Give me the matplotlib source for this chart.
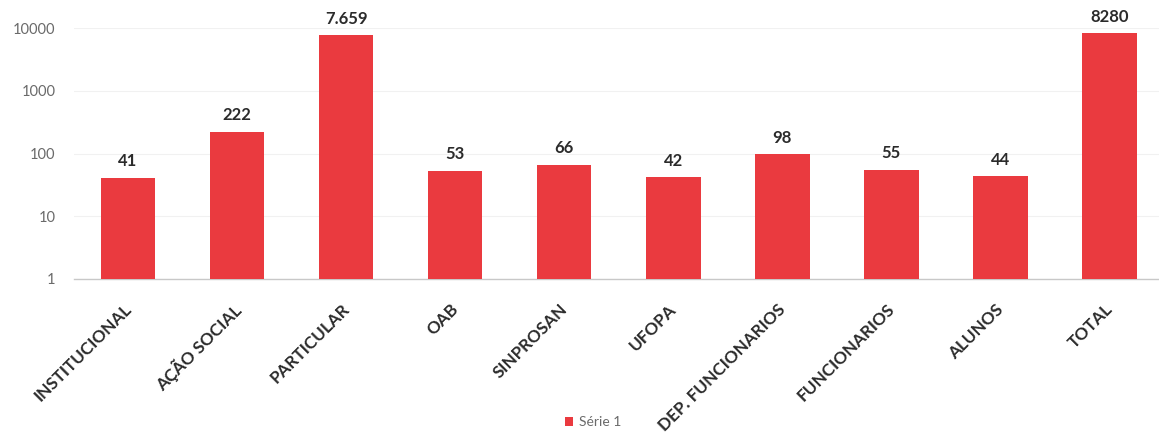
import matplotlib
matplotlib.use("Agg")
import matplotlib.pyplot as plt
import matplotlib.transforms as mtransforms
from matplotlib.patches import Patch

categories = ["INSTITUCIONAL", "AÇÃO SOCIAL", "PARTICULAR", "OAB", "SINPROSAN",
              "UFOPA", "DEP. FUNCIONARIOS", "FUNCIONARIOS", "ALUNOS", "TOTAL"]
values = [41, 222, 7659, 53, 66, 42, 98, 55, 44, 8280]
value_labels = ["41", "222", "7.659", "53", "66", "42", "98", "55", "44", "8280"]
yticks = [1, 10, 100, 1000, 10000]
series_name = "Série 1"

plt.rcParams['font.family'] = ['Lato', 'DejaVu Sans']

W, H = 1159, 438
fig = plt.figure(figsize=(W / 100, H / 100), dpi=100)
fig.patch.set_facecolor('white')
left = 73.5 / W
right = 1164 / W
bottom = 1 - 279 / H
top = 1 - 28 / H
ax = fig.add_axes([left, bottom, right - left, top - bottom])

bar_color = '#EA3A3F'
x = list(range(len(categories)))
ax.bar(x, values, width=0.5, color=bar_color, zorder=3)

ax.set_yscale('log')
ax.set_ylim(1, 10000)
ax.set_xlim(-0.5, len(categories) - 0.5)
ax.set_yticks(yticks)
ax.set_yticklabels([str(t) for t in yticks])
ax.minorticks_off()
ax.tick_params(axis='y', length=0, pad=13, labelsize=10.5, labelcolor='#6a6a6a')
ax.tick_params(axis='x', length=0, pad=16)

ax.set_xticks(x)
ax.set_xticklabels(categories, rotation=45, ha='right', va='top', rotation_mode='anchor',
                   fontsize=12.3, fontweight='bold', color='#2b2b2b')
offset = mtransforms.ScaledTranslation(-5 / 100, 0, fig.dpi_scale_trans)
for lbl in ax.get_xticklabels():
    lbl.set_transform(lbl.get_transform() + offset)

for s in ['top', 'right', 'left']:
    ax.spines[s].set_visible(False)
ax.spines['bottom'].set_color('#c8c8c8')
ax.spines['bottom'].set_linewidth(1.0)

ax.yaxis.grid(True, color='#f1f1f1', linewidth=0.8, zorder=0)
ax.set_axisbelow(True)

for xi, v, lab in zip(x, values, value_labels):
    ax.annotate(lab, (xi, v), xytext=(0, 6), textcoords='offset points',
                ha='center', va='bottom', fontsize=12, fontweight='bold',
                color='#2b2b2b', clip_on=False, annotation_clip=False)

handle = Patch(facecolor=bar_color, edgecolor='none')
fig.legend([handle], [series_name], loc='center', bbox_to_anchor=(593 / W, 1 - 422 / H),
           frameon=False, fontsize=10, handlelength=0.6, handleheight=0.6,
           handletextpad=0.4, labelcolor='#6a6a6a')

fig.savefig('out.png', dpi=100, facecolor='white')
